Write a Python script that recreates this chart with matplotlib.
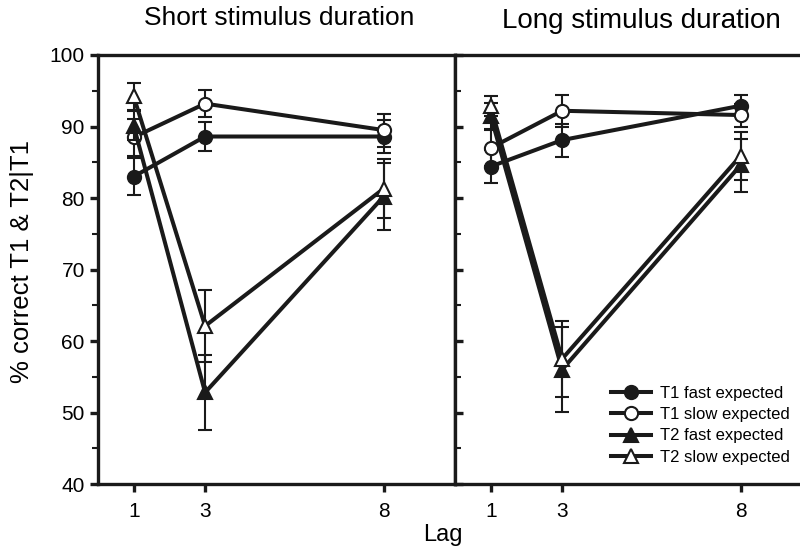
import matplotlib
matplotlib.use("Agg")
import matplotlib.pyplot as plt
from matplotlib.lines import Line2D
from matplotlib.ticker import MultipleLocator

plt.rcParams['font.family'] = ['Liberation Sans', 'DejaVu Sans']

# lags on the x axis
lags = [1, 3, 8]

# short stimulus duration (left panel)
short_t1_fast = [83.0, 88.6, 88.6]
short_t1_fast_err = [2.6, 2.0, 2.3]
short_t1_slow = [88.5, 93.2, 89.5]
short_t1_slow_err = [2.6, 1.9, 2.3]
short_t2_fast = [90.1, 52.8, 80.2]
short_t2_fast_err = [2.0, 5.3, 4.7]
short_t2_slow = [94.2, 62.1, 81.3]
short_t2_slow_err = [1.9, 5.1, 4.1]

# long stimulus duration (right panel)
long_t1_fast = [84.4, 88.1, 92.9]
long_t1_fast_err = [2.3, 2.3, 1.5]
long_t1_slow = [87.0, 92.2, 91.6]
long_t1_slow_err = [2.5, 2.2, 1.6]
long_t2_fast = [91.5, 56.0, 84.6]
long_t2_fast_err = [1.8, 5.9, 3.7]
long_t2_slow = [92.8, 57.5, 85.9]
long_t2_slow_err = [1.4, 5.3, 3.4]

labels = ['T1 fast expected', 'T1 slow expected', 'T2 fast expected', 'T2 slow expected']
markers = ['o', 'o', '^', '^']
faces = ['#1a1a1a', 'white', '#1a1a1a', 'white']

ink = '#1a1a1a'

fig = plt.figure(figsize=(8, 5.5), dpi=100)
ax1 = fig.add_axes([98 / 800, 66 / 550, 357 / 800, 429 / 550])
ax2 = fig.add_axes([455 / 800, 66 / 550, 357 / 800, 429 / 550])


def draw(ax, series, errs):
    for i in range(4):
        ax.errorbar(lags, series[i], yerr=errs[i], color=ink, lw=2.9,
                    marker=markers[i], mfc=faces[i], mec=ink, mew=1.5, ms=9.5,
                    elinewidth=1.5, capsize=5, capthick=1.5, zorder=3 + i)
    ax.set_xlim(0, 10)
    ax.set_ylim(40, 100)
    ax.set_xticks(lags)
    ax.yaxis.set_major_locator(MultipleLocator(10))
    ax.yaxis.set_minor_locator(MultipleLocator(5))
    for s in ax.spines.values():
        s.set_linewidth(2.4)
        s.set_color(ink)


draw(ax1, [short_t1_fast, short_t1_slow, short_t2_fast, short_t2_slow],
     [short_t1_fast_err, short_t1_slow_err, short_t2_fast_err, short_t2_slow_err])
draw(ax2, [long_t1_fast, long_t1_slow, long_t2_fast, long_t2_slow],
     [long_t1_fast_err, long_t1_slow_err, long_t2_fast_err, long_t2_slow_err])

ax1.tick_params(axis='both', which='major', direction='out', length=6, width=2.4,
                labelsize=15, color=ink, top=False, right=False)
ax1.tick_params(axis='y', which='minor', direction='out', length=4, width=1.5, color=ink)
ax1.tick_params(axis='x', pad=7)

ax2.tick_params(axis='y', which='major', direction='in', length=6, width=2.4,
                labelleft=False, color=ink, right=False)
ax2.tick_params(axis='y', which='minor', direction='in', length=4, width=1.5, color=ink)
ax2.tick_params(axis='x', which='major', direction='out', length=6, width=2.4,
                labelsize=15, color=ink, pad=7)
ax2.spines['right'].set_visible(False)

handles = [Line2D([], [], color=ink, lw=2.9, marker=markers[i], mfc=faces[i],
                  mec=ink, mew=1.5, ms=9.5) for i in range(4)]
ax2.legend(handles, labels, loc='lower right', bbox_to_anchor=(0.998, 0.14),
           bbox_transform=fig.transFigure, frameon=False, fontsize=12,
           handlelength=2.4, handletextpad=0.55, labelspacing=0.38,
           borderpad=0)

fig.text(279 / 800, 1 - 18 / 550, 'Short stimulus duration', ha='center', va='center', fontsize=19)
fig.text(641 / 800, 1 - 21 / 550, 'Long stimulus duration', ha='center', va='center', fontsize=20)
fig.text(443 / 800, 1 - 535 / 550, 'Lag', ha='center', va='center', fontsize=17)
fig.text(22 / 800, 1 - 261 / 550, '% correct T1 & T2|T1', ha='center', va='center',
         rotation=90, fontsize=18.5)

fig.savefig('out.png', dpi=100)
